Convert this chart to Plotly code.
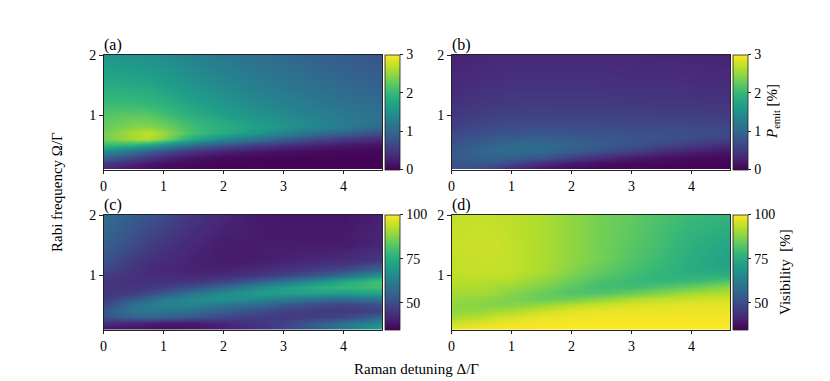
import plotly.graph_objects as go

detuning = [0, 0.5, 0.75, 1, 1.5, 2, 2.5, 3, 3.5, 4, 4.64]
rabi = [0.1, 0.2, 0.3, 0.4, 0.5, 0.6, 0.7, 0.8, 0.9, 1.0, 1.1, 1.25, 1.5, 2.0]

p_emit_a = [
    [.30, .12, .08, .05, .03, .02, .02, .01, .01, .01, .01],
    [.55, .32, .22, .15, .07, .04, .03, .02, .02, .01, .01],
    [.98, .68, .52, .36, .18, .10, .07, .05, .04, .03, .02],
    [1.45, 1.15, .95, .74, .45, .30, .20, .14, .10, .07, .05],
    [2.02, 1.90, 1.75, 1.50, 1.05, .78, .58, .42, .30, .21, .14],
    [2.34, 2.58, 2.65, 2.42, 1.80, 1.42, 1.16, .90, .68, .50, .36],
    [2.35, 2.62, 2.72, 2.55, 2.08, 1.82, 1.60, 1.32, 1.10, .92, .70],
    [2.28, 2.45, 2.47, 2.36, 2.06, 1.88, 1.72, 1.55, 1.38, 1.22, 1.00],
    [2.24, 2.34, 2.33, 2.24, 1.98, 1.80, 1.65, 1.50, 1.38, 1.26, 1.10],
    [2.18, 2.24, 2.22, 2.10, 1.88, 1.70, 1.56, 1.43, 1.32, 1.22, 1.10],
    [2.10, 2.12, 2.08, 2.00, 1.80, 1.63, 1.49, 1.37, 1.27, 1.17, 1.06],
    [2.00, 1.98, 1.94, 1.87, 1.69, 1.54, 1.41, 1.30, 1.20, 1.11, 1.01],
    [1.84, 1.80, 1.76, 1.70, 1.54, 1.41, 1.29, 1.19, 1.09, 1.01, .93],
    [1.56, 1.52, 1.49, 1.44, 1.32, 1.20, 1.10, 1.01, .93, .87, .78],
]
p_emit_b = [
    [.75, .62, .45, .28, .12, .06, .04, .03, .02, .01, .01],
    [.80, .82, .78, .68, .42, .22, .13, .08, .06, .04, .03],
    [.84, .93, .94, .92, .82, .60, .40, .26, .17, .11, .07],
    [.84, .96, 1.02, 1.05, 1.00, .88, .74, .58, .40, .27, .17],
    [.78, .92, .98, 1.02, 1.03, .95, .86, .76, .64, .52, .35],
    [.72, .82, .87, .90, .92, .88, .83, .79, .74, .68, .57],
    [.64, .73, .77, .79, .81, .79, .77, .75, .73, .71, .66],
    [.58, .66, .69, .71, .72, .71, .70, .69, .68, .67, .64],
    [.53, .60, .63, .65, .66, .65, .64, .63, .62, .61, .59],
    [.48, .55, .58, .59, .60, .60, .59, .58, .57, .56, .54],
    [.45, .51, .54, .55, .56, .55, .55, .54, .52, .51, .49],
    [.40, .46, .48, .50, .51, .50, .50, .48, .47, .46, .44],
    [.35, .40, .42, .44, .44, .44, .43, .42, .41, .40, .38],
    [.28, .32, .33, .34, .35, .35, .34, .33, .31, .30, .29],
]
visibility_c = [
    [37, 37, 37, 37, 38, 40, 43, 48, 55, 63, 73],
    [44, 42, 41, 40, 40, 42, 45, 48, 53, 58, 67],
    [51, 55, 56, 55, 52, 49, 47, 46, 47, 49, 56],
    [53, 60, 61, 60, 58, 54, 51, 48, 46, 46, 48],
    [49, 59, 62, 64, 64, 60, 57, 53, 50, 48, 51],
    [46, 53, 57, 61, 66, 68, 66, 62, 59, 57, 61],
    [45, 47, 49, 53, 60, 66, 70, 72, 72, 71, 73],
    [45, 45, 46, 47, 51, 57, 64, 71, 75, 78, 80],
    [46, 44, 44, 44, 45, 48, 53, 59, 66, 73, 81],
    [47, 44, 43, 43, 42, 43, 45, 48, 52, 58, 68],
    [49, 45, 43, 42, 41, 41, 42, 44, 46, 49, 56],
    [52, 46, 44, 43, 41, 40, 40, 41, 42, 43, 46],
    [55, 50, 47, 45, 42, 40, 40, 40, 40, 40, 42],
    [58, 54, 52, 50, 45, 42, 40, 39, 39, 39, 41],
]
visibility_d = [
    [98, 99.5, 99.5, 99.5, 100, 100, 100, 100, 100, 100, 100],
    [95, 97, 98, 98.5, 99, 99.5, 99.5, 99.5, 99.5, 99.5, 99.5],
    [91, 93, 95, 96, 98, 98.5, 99, 99, 99, 99, 99],
    [89, 90, 91, 92, 95, 97, 98, 98, 98, 98.5, 98.5],
    [89, 88, 88, 88, 90, 93, 95, 96.5, 97, 97.5, 97.5],
    [90, 89, 88, 87, 85, 86, 89, 92, 94, 95, 96],
    [91, 91, 90, 88, 85, 82, 82, 85, 88, 91, 92.5],
    [92, 92, 91, 90, 87, 83, 80, 80, 82, 85, 89],
    [93, 93, 92.5, 92, 89, 85, 81, 79, 78, 79, 82],
    [93.5, 94, 94, 93.5, 91, 87, 83, 80, 77, 76, 76],
    [94, 94.5, 94.5, 94, 92, 88, 84, 81, 78, 75, 73],
    [94, 94.5, 94.5, 94, 92, 89, 86, 82, 79, 75, 72],
    [94.5, 95, 95, 94, 92, 89, 86, 83, 80, 76, 73],
    [94, 94.5, 94, 93.5, 92, 89, 86, 84, 81, 79, 77],
]

emit_ticks = [0, 1, 2, 3]
vis_ticks = [50, 75, 100]
x_ticks = [0, 1, 2, 3, 4]
y_ticks = [1, 2]
panel_labels = ["(a)", "(b)", "(c)", "(d)"]

W, H = 830, 381
FONT = "Liberation Serif"
INK = "#222222"
lefts = [103.5, 451.5]
tops = [55, 215]
pw, ph = 278.5, 114.5
cb_gap, cb_w = 2.5, 14.5

panels = [
    (p_emit_a, 0, 0, 0, 3, emit_ticks),
    (p_emit_b, 1, 0, 0, 3, emit_ticks),
    (visibility_c, 0, 1, 35, 100, vis_ticks),
    (visibility_d, 1, 1, 35, 100, vis_ticks),
]

fig = go.Figure()
layout = {}
for i, (z, col, row, zmin, zmax, ticks) in enumerate(panels):
    suffix = "" if i == 0 else str(i + 1)
    left, top = lefts[col], tops[row]
    bottom = top + ph
    colorbar = dict(
        x=(left + pw + cb_gap) / W, xanchor="left",
        y=(H - bottom) / H, yanchor="bottom",
        len=ph / H, lenmode="fraction",
        thickness=cb_w, thicknessmode="pixels", xpad=0, ypad=0,
        outlinewidth=0.8, outlinecolor=INK,
        tickmode="array", tickvals=ticks, ticktext=[str(t) for t in ticks],
        ticks="outside", ticklen=3.5, tickwidth=0.8, tickcolor=INK,
        tickfont=dict(family=FONT, size=14, color="black"),
    )
    fig.add_trace(go.Heatmap(
        x=detuning, y=rabi, z=z, zmin=zmin, zmax=zmax,
        colorscale="Viridis", zsmooth="best",
        xaxis=f"x{suffix}", yaxis=f"y{suffix}", colorbar=colorbar,
    ))
    common = dict(showline=True, linecolor=INK, linewidth=0.8, mirror=True,
                  ticks="outside", ticklen=3.5, tickwidth=0.8, tickcolor=INK,
                  showgrid=False, zeroline=False,
                  tickfont=dict(family=FONT, size=14, color="black"))
    layout[f"xaxis{suffix}"] = dict(
        domain=[left / W, (left + pw) / W], anchor=f"y{suffix}", range=[0, 4.64],
        tickmode="array", tickvals=x_ticks, ticktext=[str(t) for t in x_ticks], **common)
    layout[f"yaxis{suffix}"] = dict(
        domain=[(H - bottom) / H, (H - top) / H], anchor=f"x{suffix}", range=[0.1, 2],
        tickmode="array", tickvals=y_ticks, ticktext=[str(t) for t in y_ticks], **common)

annotations = [
    dict(text=panel_labels[i], x=lefts[i % 2] / W, y=(H - tops[i // 2]) / H,
         xref="paper", yref="paper", xanchor="left", yanchor="bottom", showarrow=False,
         xshift=-2, yshift=-1, font=dict(family=FONT, size=16, color="black"))
    for i in range(4)
]


def label(text, px, py, angle=0):
    return dict(text=text, x=px / W, y=(H - py) / H, xref="paper", yref="paper",
                xanchor="center", yanchor="middle", showarrow=False, textangle=angle,
                font=dict(family=FONT, size=15, color="black"))


annotations += [
    label("Raman detuning Δ/Γ", 416.5, 369),
    label("Rabi frequency Ω/Γ", 57, 192, -90),
    label("<i>P</i><sub>emit</sub> [%]", 773, 112, -90),
    label("Visibility  [%]", 785, 272, -90),
]

fig.update_layout(width=W, height=H, margin=dict(l=0, r=0, t=0, b=0, autoexpand=False),
                  paper_bgcolor="white", plot_bgcolor="white",
                  annotations=annotations, **layout)
fig.write_html("out.html", config={"displayModeBar": False},
               post_script="document.body.style.margin='0';")
